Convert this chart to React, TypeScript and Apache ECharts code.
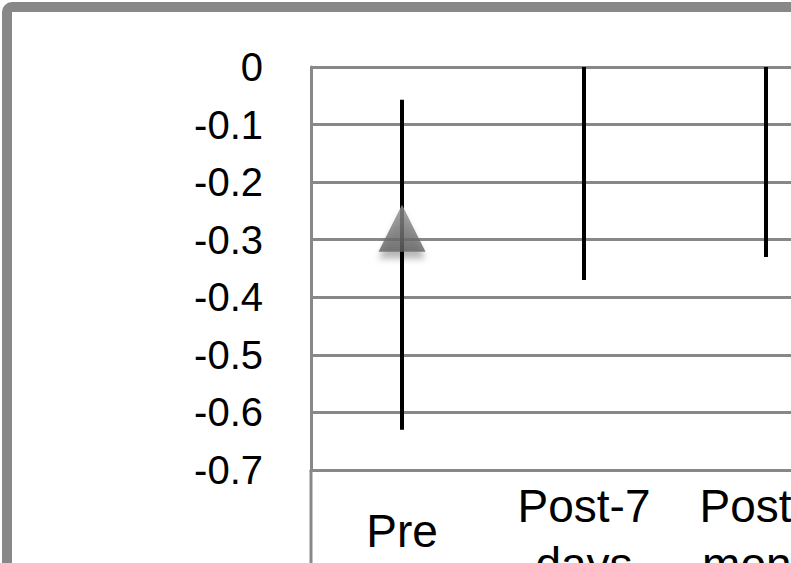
import React, { useEffect, useRef } from 'react';
import * as echarts from 'echarts';

const categories = ['Pre', 'Post-7\ndays', 'Post-1\nmonth'];
const meanValues = [-0.28, 0.08, 0.1];
const lowValues = [-0.63, -0.37, -0.33];
const highValues = [-0.057, 0.53, 0.53];
const yTickLabels = ['-0.7', '-0.6', '-0.5', '-0.4', '-0.3', '-0.2', '-0.1', '0'];
const yMin = -0.7;
const yMax = 0;
const yStep = 0.1;

const FONT = '"Liberation Sans", Arial, sans-serif';

export default function App() {
  const ref = useRef<HTMLDivElement>(null);

  useEffect(() => {
    if (!ref.current) return;
    const chart = echarts.init(ref.current, null, { renderer: 'svg' });
    const option: any = {
      animation: false,
      backgroundColor: '#fff',
      grid: {
        left: 311,
        top: 67,
        right: 0,
        bottom: 93,
        containLabel: false,
        outerBoundsMode: 'none',
      },
      xAxis: {
        type: 'category',
        data: categories,
        boundaryGap: true,
        axisLine: { show: true, onZero: false, lineStyle: { color: '#888', width: 3 } },
        axisTick: { show: false },
        splitLine: { show: false },
        axisLabel: {
          margin: 7,
          interval: 0,
          hideOverlap: false,
          formatter: (v: string) =>
            v.includes('\n')
              ? v.split('\n').map((s) => `{m|${s}}`).join('\n')
              : `{s|${v}}`,
          rich: {
            m: { fontSize: 46, lineHeight: 58, fontFamily: FONT, color: '#000' },
            s: { fontSize: 46, lineHeight: 108, fontFamily: FONT, color: '#000' },
          },
        },
      },
      yAxis: {
        type: 'value',
        min: yMin,
        max: yMax,
        interval: yStep,
        axisLine: { show: true, lineStyle: { color: '#888', width: 3 } },
        axisTick: { show: false },
        splitLine: { show: true, lineStyle: { color: '#888', width: 3 } },
        axisLabel: {
          margin: 48,
          fontSize: 40,
          fontFamily: FONT,
          color: '#000',
          formatter: (v: number) => yTickLabels[Math.round((v - yMin) / yStep)] ?? '',
        },
      },
      series: [
        {
          type: 'custom',
          clip: true,
          z: 3,
          encode: { x: 0, y: [1, 2] },
          data: categories.map((_, i) => [i, lowValues[i], highValues[i]]),
          renderItem: (params: any, api: any) => {
            const x = api.value(0);
            const p1 = api.coord([x, api.value(1)]);
            const p2 = api.coord([x, api.value(2)]);
            return {
              type: 'line',
              shape: { x1: p1[0], y1: p1[1], x2: p2[0], y2: p2[1] },
              style: { stroke: '#000', lineWidth: 4 },
            };
          },
        },
        {
          type: 'scatter',
          clip: true,
          z: 5,
          symbol: 'triangle',
          symbolSize: [47, 47],
          data: meanValues,
          itemStyle: {
            color: new echarts.graphic.LinearGradient(0, 0, 0, 1, [
              { offset: 0, color: '#959595' },
              { offset: 1, color: '#5e5e5e' },
            ]),
            shadowColor: 'rgba(0,0,0,0.35)',
            shadowBlur: 6,
            shadowOffsetY: 7,
          },
        },
      ],
      graphic: [
        {
          type: 'line',
          z: 50,
          shape: { x1: 311, y1: 470, x2: 311, y2: 600 },
          style: { stroke: '#888', lineWidth: 3 },
        },
        {
          type: 'rect',
          z: 100,
          shape: { x: 7, y: 7, width: 1200, height: 1200, r: 5 },
          style: { fill: 'none', stroke: '#888', lineWidth: 10 },
        },
      ],
    };
    chart.setOption(option);
    return () => chart.dispose();
  }, []);

  return (
    <div
      style={{
        position: 'fixed',
        left: 0,
        top: 0,
        width: 791,
        height: 563,
        overflow: 'hidden',
        background: '#fff',
      }}
    >
      <div ref={ref} style={{ width: 857, height: 563 }} />
    </div>
  );
}
